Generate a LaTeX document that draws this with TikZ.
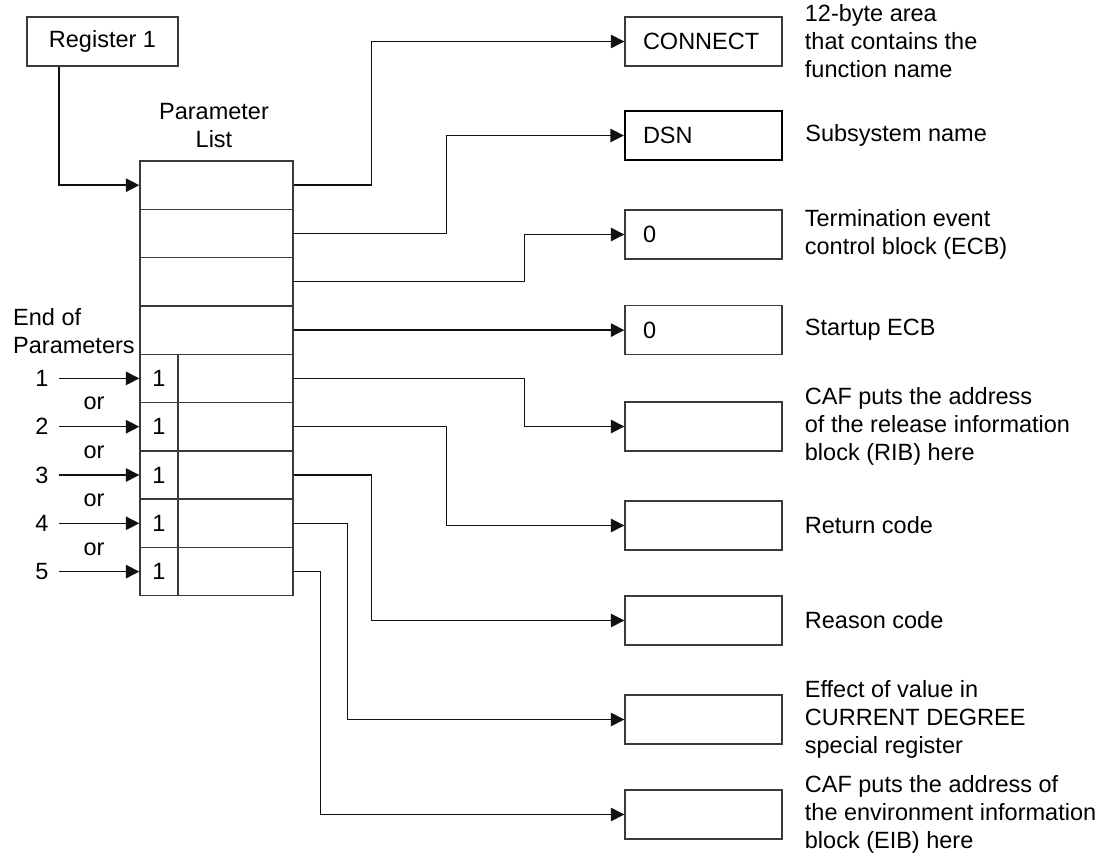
\documentclass[tikz,border=0pt]{standalone}
\usepackage{fontspec}
\setmainfont{Liberation Sans}
\usetikzlibrary{arrows.meta,positioning}
\definecolor{boxc}{HTML}{3A3A3A}
\definecolor{linec}{HTML}{111111}

\begin{document}
\begin{tikzpicture}[x=1pt, y=-1pt,
    txt/.style={font=\fontsize{23.5}{28}\selectfont, inner sep=0pt},
    cell/.style={txt, draw=boxc, line width=1.4pt, minimum height=48.3pt},
    val/.style={txt, draw=boxc, line width=1.4pt, minimum height=49pt, minimum width=157pt,
      text width=121pt, inner xsep=18pt, align=left},
    num/.style={txt, inner xsep=10pt},
    arr/.style={draw=linec, line width=1.4pt, -{Triangle[length=13.5pt,width=13.5pt]}}]

  \useasboundingbox (0,0) rectangle (1104,858);

  % ── register and parameter list ──
  \node[cell, minimum width=151pt, minimum height=49pt] (reg) at (102.5,41.5) {Register 1};
  \node[txt, align=center] (plbl) at (214,126) {Parameter\\List};

  \node[cell, minimum width=153pt] (p1) at (216.5,185.2) {};
  \node[cell, minimum width=153pt] (p2) at (216.5,233.5) {};
  \node[cell, minimum width=153pt] (p3) at (216.5,281.8) {};
  \node[cell, minimum width=153pt] (p4) at (216.5,330.1) {};
  \node[cell, minimum width=38pt]  (f5) at (159,378.4) {1};
  \node[cell, minimum width=115pt] (a5) at (235.5,378.4) {};
  \node[cell, minimum width=38pt]  (f6) at (159,426.7) {1};
  \node[cell, minimum width=115pt] (a6) at (235.5,426.7) {};
  \node[cell, minimum width=38pt]  (f7) at (159,475.0) {1};
  \node[cell, minimum width=115pt] (a7) at (235.5,475.0) {};
  \node[cell, minimum width=38pt]  (f8) at (159,523.3) {1};
  \node[cell, minimum width=115pt] (a8) at (235.5,523.3) {};
  \node[cell, minimum width=38pt]  (f9) at (159,571.6) {1};
  \node[cell, minimum width=115pt] (a9) at (235.5,571.6) {};

  \draw[arr] ([xshift=-43.5pt]reg.south) |- (p1);

  % ── end of parameters markers ──
  \node[txt, align=left, anchor=west] (eop) at (13,331) {End of\\Parameters};
  \node[num] (e1) at (42,378.4) {1};
  \node[num] (e2) at (42,426.7) {2};
  \node[num] (e3) at (42,475.0) {3};
  \node[num] (e4) at (42,523.3) {4};
  \node[num] (e5) at (42,571.6) {5};
  \node[txt] (or1) at (94,403.5) {or};
  \node[txt] (or2) at (94,452) {or};
  \node[txt] (or3) at (94,500.5) {or};
  \node[txt] (or4) at (94,549) {or};
  \draw[arr] (e1) -- (f5);
  \draw[arr] (e2) -- (f6);
  \draw[arr] (e3) -- (f7);
  \draw[arr] (e4) -- (f8);
  \draw[arr] (e5) -- (f9);

  % ── target areas ──
  \node[val] (b1) at (703.5,41.5) {CONNECT};
  \node[val, line width=2.3pt, draw=black] (b2) at (703.5,135.5) {DSN};
  \node[val] (b3) at (703.5,234.5) {0};
  \node[val] (b4) at (703.5,330.1) {0};
  \node[val] (b5) at (703.5,426.5) {};
  \node[val] (b6) at (703.5,525.5) {};
  \node[val] (b7) at (703.5,620.5) {};
  \node[val] (b8) at (703.5,719.5) {};
  \node[val] (b9) at (703.5,814.5) {};

  \node[txt, align=left, right=22pt of b1] (d1) {12-byte area\\that contains the\\function name};
  \node[txt, align=left, right=22pt of b2] (d2) {Subsystem name};
  \node[txt, align=left, right=22pt of b3] (d3) {Termination event\\control block (ECB)};
  \node[txt, align=left, right=22pt of b4] (d4) {Startup ECB};
  \node[txt, align=left, right=22pt of b5] (d5) {CAF puts the address\\of the release information\\block (RIB) here};
  \node[txt, align=left, right=22pt of b6] (d6) {Return code};
  \node[txt, align=left, right=22pt of b7] (d7) {Reason code};
  \node[txt, align=left, right=22pt of b8] (d8) {Effect of value in\\CURRENT DEGREE\\special register};
  \node[txt, align=left, right=22pt of b9] (d9) {CAF puts the address of\\the environment information\\block (EIB) here};

  % ── pointers ──
  \draw[arr] (p1.east) -- ++(78,0) |- (b1);
  \draw[arr] (p2.east) -- ++(153,0) |- (b2);
  \draw[arr] (p3.east) -- ++(231,0) |- (b3);
  \draw[arr] (p4) -- (b4);
  \draw[arr] (a5.east) -- ++(231,0) |- (b5);
  \draw[arr] (a6.east) -- ++(153,0) |- (b6);
  \draw[arr] (a7.east) -- ++(78,0) |- (b7);
  \draw[arr] (a8.east) -- ++(54,0) |- (b8);
  \draw[arr] (a9.east) -- ++(27,0) |- (b9);
\end{tikzpicture}
\end{document}
